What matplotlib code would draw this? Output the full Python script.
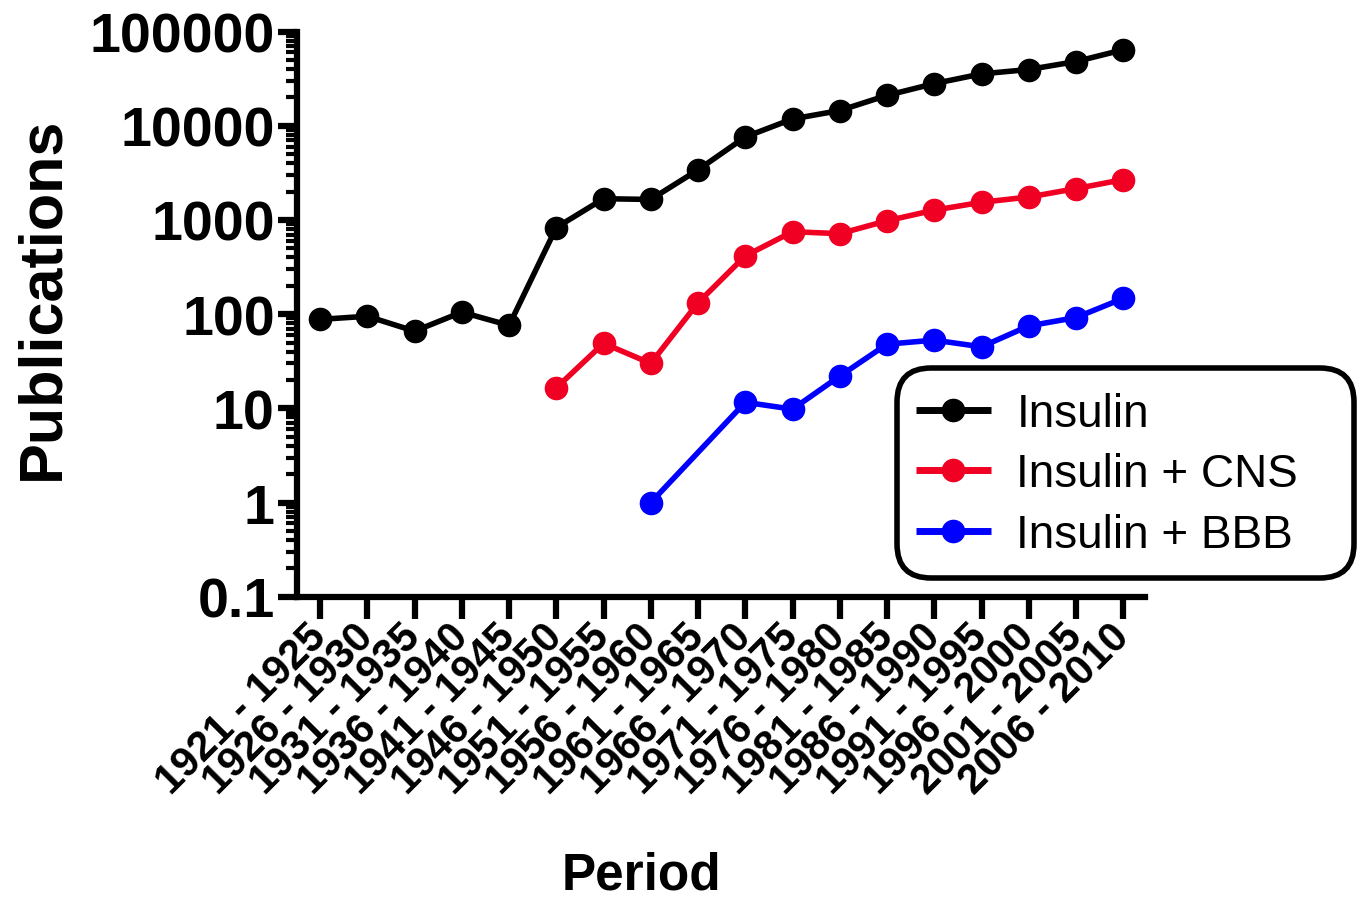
import numpy as np
import matplotlib
matplotlib.use("Agg")
import matplotlib.pyplot as plt
from matplotlib.patches import FancyBboxPatch
from matplotlib.ticker import LogLocator, NullFormatter, FixedLocator

# ---- data ----
periods = [
    "1921 - 1925", "1926 - 1930", "1931 - 1935", "1936 - 1940", "1941 - 1945",
    "1946 - 1950", "1951 - 1955", "1956 - 1960", "1961 - 1965", "1966 - 1970",
    "1971 - 1975", "1976 - 1980", "1981 - 1985", "1986 - 1990", "1991 - 1995",
    "1996 - 2000", "2001 - 2005", "2006 - 2010",
]
insulin = [88, 95, 66, 105, 76, 830, 1680, 1650, 3400, 7600,
           11800, 14500, 21000, 28000, 35500, 39500, 48000, 64000]
insulin_cns = [None, None, None, None, None, 16.5, 49, 30, 132, 415,
               750, 715, 980, 1270, 1540, 1750, 2150, 2680]
insulin_bbb = [None, None, None, None, None, None, None, 1.0, None, 11.6,
               9.8, 22, 48, 53, 45, 75, 92, 147]

series = [
    ("Insulin", insulin, "#000000"),
    ("Insulin + CNS", insulin_cns, "#F00022"),
    ("Insulin + BBB", insulin_bbb, "#0000FF"),
]

plt.rcParams["font.family"] = ["Liberation Sans", "DejaVu Sans"]

W, H = 1362, 903
fig = plt.figure(figsize=(W / 100, H / 100), dpi=100)
ax = fig.add_axes([0.218, 0.338, 0.623, 0.626])

for name, vals, col in series:
    xs = [i for i, v in enumerate(vals) if v is not None]
    ys = [v for v in vals if v is not None]
    ax.plot(xs, ys, color=col, lw=4, marker="o", ms=16, label=name,
            solid_capstyle="butt")

ax.set_yscale("log")
ax.set_ylim(0.1, 100000)
ax.set_xlim(-0.49, 17.47)

ax.yaxis.set_major_locator(FixedLocator([0.1, 1, 10, 100, 1000, 10000, 100000]))
ax.set_yticklabels(["0.1", "1", "10", "100", "1000", "10000", "100000"])
ax.yaxis.set_minor_locator(LogLocator(base=10, subs=np.arange(2, 10), numticks=100))
ax.yaxis.set_minor_formatter(NullFormatter())

ax.set_xticks(range(len(periods)))
ax.set_xticklabels(periods, rotation=45, ha="right", va="center",
                   rotation_mode="anchor", fontsize=30, fontweight="bold")

for s in ["top", "right"]:
    ax.spines[s].set_visible(False)
for s in ["left", "bottom"]:
    ax.spines[s].set_linewidth(4.5)

ax.tick_params(axis="y", which="major", length=14, width=4.5,
               labelsize=40, pad=2)
ax.tick_params(axis="y", which="minor", length=8, width=3)
ax.tick_params(axis="x", which="major", length=16, width=4.5, pad=8)
for t in ax.get_yticklabels():
    t.set_fontweight("bold")

ax.set_ylabel("Publications", fontsize=44, fontweight="bold")
ax.yaxis.set_label_coords(-0.266, 0.53)
fig.text(641 / W, 2 / H, "Period", fontsize=37, fontweight="bold",
         ha="center", va="bottom")

# legend without its own frame; a rounded box drawn behind it instead
leg = fig.legend(loc="upper left", bbox_to_anchor=(895 / W, 1 - 372 / H),
                 fontsize=33, frameon=False,
                 handlelength=1.65, labelspacing=0.36, borderpad=0.45,
                 handletextpad=0.55, borderaxespad=0)
for h in leg.legend_handles:
    h.set_linewidth(5)

box = FancyBboxPatch((897 / W, 1 - 579 / H), (1354 - 897) / W, (579 - 369) / H,
                     boxstyle="round,pad=0,rounding_size=0.025",
                     transform=fig.transFigure, facecolor="white",
                     edgecolor="black", linewidth=4, zorder=2,
                     mutation_aspect=W / H)
fig.add_artist(box)
leg.set_zorder(3)

fig.savefig("out.png", dpi=100)
